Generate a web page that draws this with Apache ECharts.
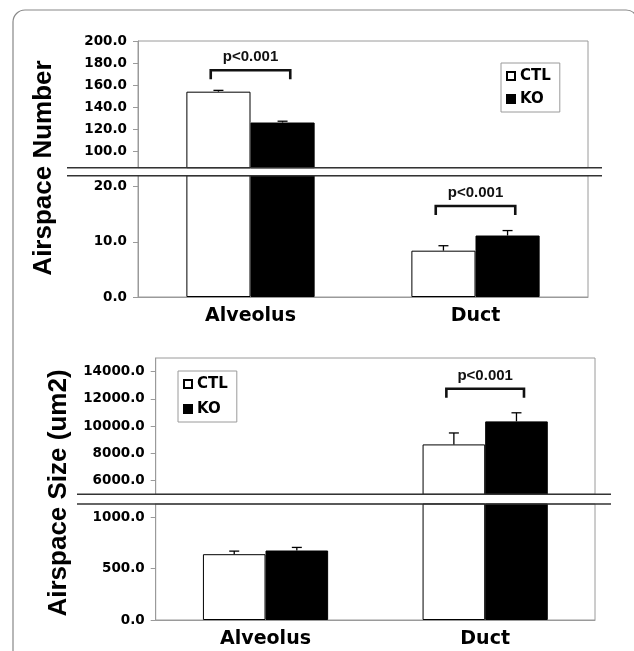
<!DOCTYPE html>
<html>
<head>
<meta charset="utf-8">
<script src="https://cdn.jsdelivr.net/npm/echarts@6/dist/echarts.min.js"></script>
<style>
html,body{margin:0;padding:0;background:#fff;}
#chart{width:634px;height:651px;}
</style>
</head>
<body>
<div id="chart"></div>
<script>
// ---- data ----
const categories = ['Alveolus', 'Duct'];
const seriesNames = ['CTL', 'KO'];
const numberCTL = [154, 8.4];
const numberKO = [126, 11.15];
const numberCTLErr = [1.2, 0.9];
const numberKOErr = [1.2, 0.9];
const sizeCTL = [641, 8660];
const sizeKO = [677, 10350];
const sizeCTLErr = [30, 840];
const sizeKOErr = [30, 630];
const numberUpperTicks = [100, 120, 140, 160, 180, 200];
const numberLowerTicks = [0, 10, 20];
const sizeUpperTicks = [6000, 8000, 10000, 12000, 14000];
const sizeLowerTicks = [0, 500, 1000];
const numberUpperRange = [85, 200];
const numberLowerRange = [0, 22];
const sizeUpperRange = [5000, 15000];
const sizeLowerRange = [0, 1130];
const numberBracketCats = [0, 1];
const numberBracketVals = [173.5, 16.5];
const sizeBracketCats = [1];
const sizeBracketVals = [12744];
const pLabel = 'p<0.001';
const numberTitle = 'Airspace Number';
const sizeTitle = 'Airspace Size (um2)';

// ---- layout ----
const G = [
  {left: 138, top: 41, width: 450, height: 126.7},
  {left: 138, top: 175.7, width: 450, height: 121.3},
  {left: 155.7, top: 358, width: 439.3, height: 136.3},
  {left: 155.7, top: 504, width: 439.3, height: 116}
];
const CAT_GAP = 0.43;
const ranges = [numberUpperRange, numberLowerRange, sizeUpperRange, sizeLowerRange];
const ticks = [numberUpperTicks, numberLowerTicks, sizeUpperTicks, sizeLowerTicks];

const tickFont = {fontFamily: 'DejaVu Sans', fontWeight: 'bold', fontSize: 13.5, color: '#000'};

const grids = G.map(g => Object.assign({show: true, borderColor: '#9a9a9a', borderWidth: 1, backgroundColor: '#fff'}, g));

const xAxes = G.map((g, i) => ({
  type: 'category', gridIndex: i, data: categories,
  show: (i === 1 || i === 3),
  axisLine: {lineStyle: {color: '#9a9a9a'}},
  axisTick: {show: false},
  axisLabel: {fontFamily: 'DejaVu Sans', fontWeight: 'bold', fontSize: 19, color: '#000', margin: 10}
}));

const yAxes = G.map((g, i) => ({
  type: 'value', gridIndex: i, min: ranges[i][0], max: ranges[i][1],
  splitLine: {show: false},
  axisLine: {show: true, lineStyle: {color: '#9a9a9a'}},
  axisTick: {show: true, length: 5, lineStyle: {color: '#9a9a9a'}, customValues: ticks[i]},
  axisLabel: Object.assign({margin: 11, customValues: ticks[i], formatter: v => Number(v).toFixed(1)}, tickFont)
}));

const ctlStyle = {color: '#fff', borderColor: '#000', borderWidth: 1};
const koStyle = {color: '#000', borderColor: '#000', borderWidth: 1};

function bars(name, data, gi, style) {
  return {type: 'bar', name: name, data: data, xAxisIndex: gi, yAxisIndex: gi,
    barGap: '0%', barCategoryGap: (CAT_GAP * 100) + '%', itemStyle: style, clip: true,
    silent: true, animation: false};
}

function inRange(v, r) { return v >= r[0] && v <= r[1]; }

function errSeries(gi, ctl, ko, ctlErr, koErr) {
  const r = ranges[gi];
  const data = [];
  categories.forEach((c, ci) => {
    if (inRange(ctl[ci], r)) data.push([ci, ctl[ci], ctlErr[ci], 0]);
    if (inRange(ko[ci], r)) data.push([ci, ko[ci], koErr[ci], 1]);
  });
  return {
    type: 'custom', name: 'err' + gi, xAxisIndex: gi, yAxisIndex: gi, data: data, silent: true, animation: false, z: 5,
    renderItem: function (params, api) {
      const c = api.value(0), v = api.value(1), e = api.value(2), s = api.value(3);
      const band = api.size([1, 0])[0];
      const bw = band * (1 - CAT_GAP) / 2;
      const p0 = api.coord([c, v]);
      const p1 = api.coord([c, v + e]);
      const x = p0[0] + (s === 0 ? -bw / 2 : bw / 2);
      const st = {stroke: '#000', lineWidth: 1.3};
      return {type: 'group', children: [
        {type: 'line', shape: {x1: x, y1: p0[1], x2: x, y2: p1[1]}, style: st},
        {type: 'line', shape: {x1: x - 5, y1: p1[1], x2: x + 5, y2: p1[1]}, style: st}
      ]};
    }
  };
}

function bracketSeries(gi, cats, vals) {
  const data = cats.map((c, k) => [c, vals[k]]);
  return {
    type: 'custom', name: 'br' + gi, xAxisIndex: gi, yAxisIndex: gi, data: data, silent: true, animation: false, z: 6,
    renderItem: function (params, api) {
      const c = api.value(0), v = api.value(1);
      const band = api.size([1, 0])[0];
      const bw = band * (1 - CAT_GAP) / 2;
      const p = api.coord([c, v]);
      const half = bw * 0.62;
      return {type: 'group', children: [
        {type: 'polyline', shape: {points: [[p[0] - half, p[1] + 9], [p[0] - half, p[1]], [p[0] + half, p[1]], [p[0] + half, p[1] + 9]]},
          style: {stroke: '#111', lineWidth: 2.6, fill: null}},
        {type: 'text', style: {text: pLabel, x: p[0], y: p[1] - 13, align: 'center', verticalAlign: 'middle',
          textAlign: 'center', textVerticalAlign: 'middle',
          font: 'bold 15px "Liberation Sans", Arial, sans-serif', fill: '#111'}}
      ]};
    }
  };
}

const series = [
  bars('CTL', numberCTL, 0, ctlStyle), bars('KO', numberKO, 0, koStyle),
  bars('CTL', numberCTL, 1, ctlStyle), bars('KO', numberKO, 1, koStyle),
  bars('CTL', sizeCTL, 2, ctlStyle), bars('KO', sizeKO, 2, koStyle),
  bars('CTL', sizeCTL, 3, ctlStyle), bars('KO', sizeKO, 3, koStyle),
  errSeries(0, numberCTL, numberKO, numberCTLErr, numberKOErr),
  errSeries(1, numberCTL, numberKO, numberCTLErr, numberKOErr),
  errSeries(2, sizeCTL, sizeKO, sizeCTLErr, sizeKOErr),
  errSeries(3, sizeCTL, sizeKO, sizeCTLErr, sizeKOErr),
  bracketSeries(0, numberBracketCats.filter((c, k) => inRange(numberBracketVals[k], numberUpperRange)), numberBracketVals.filter(v => inRange(v, numberUpperRange))),
  bracketSeries(1, numberBracketCats.filter((c, k) => inRange(numberBracketVals[k], numberLowerRange)), numberBracketVals.filter(v => inRange(v, numberLowerRange))),
  bracketSeries(2, sizeBracketCats.filter((c, k) => inRange(sizeBracketVals[k], sizeUpperRange)), sizeBracketVals.filter(v => inRange(v, sizeUpperRange)))
];

const legendText = {fontFamily: 'DejaVu Sans', fontWeight: 'bold', fontSize: 15, color: '#000', lineHeight: 16};
const legends = [
  {data: seriesNames, orient: 'vertical', left: 501, top: 63, itemWidth: 8, itemHeight: 8, itemGap: 7,
    padding: [5, 9, 5, 5], borderColor: '#9a9a9a', borderWidth: 1, backgroundColor: '#fff', icon: 'rect', textStyle: legendText, selectedMode: false},
  {data: seriesNames, orient: 'vertical', left: 178, top: 371, itemWidth: 8, itemHeight: 8, itemGap: 9,
    padding: [5, 9, 5, 5], borderColor: '#9a9a9a', borderWidth: 1, backgroundColor: '#fff', icon: 'rect', textStyle: legendText, selectedMode: false}
];

function breakLines(y1, y2, x1, x2) {
  return [y1, y2].map(y => ({type: 'line', z: 100, shape: {x1: x1, y1: y, x2: x2, y2: y}, style: {stroke: '#333', lineWidth: 1.5}}));
}

const graphic = [
  {type: 'rect', z: -1, shape: {x: 13, y: 10, width: 625, height: 700, r: 12}, style: {fill: 'none', stroke: '#888', lineWidth: 1.2}},
  {type: 'text', x: 44, y: 168, rotation: Math.PI / 2, style: {text: numberTitle, align: 'center', verticalAlign: 'middle', textAlign: 'center', textVerticalAlign: 'middle', font: 'bold 26px "Liberation Sans", Arial, sans-serif', fill: '#000'}},
  {type: 'text', x: 59, y: 493, rotation: Math.PI / 2, style: {text: sizeTitle, align: 'center', verticalAlign: 'middle', textAlign: 'center', textVerticalAlign: 'middle', font: 'bold 26px "Liberation Sans", Arial, sans-serif', fill: '#000'}}
].concat(
  breakLines(G[0].top + G[0].height, G[1].top, 67, 602),
  breakLines(G[2].top + G[2].height, G[3].top, 77, 611)
);

const chart = echarts.init(document.getElementById('chart'));
chart.setOption({
  animation: false,
  backgroundColor: '#fff',
  grid: grids,
  xAxis: xAxes,
  yAxis: yAxes,
  legend: legends,
  series: series,
  graphic: graphic
});
</script>
</body>
</html>
